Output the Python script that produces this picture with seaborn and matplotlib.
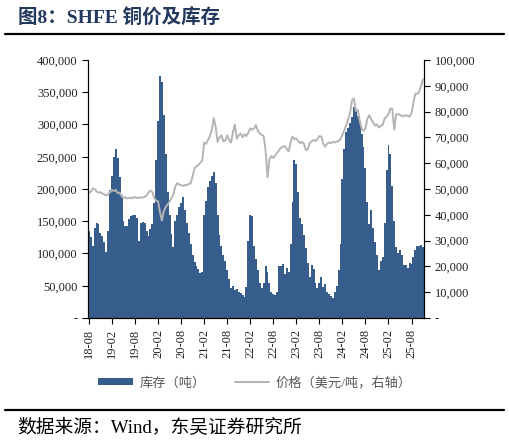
import numpy as np
import pandas as pd
import seaborn as sns
import matplotlib
matplotlib.use("Agg")
import matplotlib.pyplot as plt
from matplotlib.patches import Patch
from matplotlib.lines import Line2D
from matplotlib.ticker import FuncFormatter, MultipleLocator

# SHFE copper inventory (thousand tonnes), semi-monthly from 2018-08
inventory_k = [
    135, 125, 112, 140, 147, 145, 132, 127, 118, 102,
    135, 198, 220, 250, 262, 248, 218, 190, 150, 143,
    142, 154, 158, 160, 160, 155, 120, 147, 149, 148,
    135, 127, 138, 146, 178, 245, 305, 375, 366, 315,
    255, 195, 160, 130, 110, 150, 160, 172, 178, 188,
    168, 148, 132, 115, 98, 87, 80, 76, 69, 72,
    160, 182, 203, 212, 220, 227, 210, 160, 128, 112,
    97, 88, 75, 60, 47, 49, 43, 45, 41, 38,
    36, 32, 48, 120, 160, 158, 112, 92, 75, 54,
    47, 55, 80, 72, 55, 40, 37, 36, 40, 80,
    80, 84, 68, 78, 72, 115, 180, 245, 238, 195,
    155, 145, 128, 108, 85, 64, 82, 76, 54, 47,
    55, 63, 48, 52, 40, 37, 34, 31, 40, 50,
    75, 115, 215, 262, 288, 295, 302, 312, 327, 322,
    313, 305, 285, 265, 232, 180, 145, 168, 140, 118,
    98, 74, 88, 95, 148, 230, 268, 255, 205, 150,
    110, 100, 106, 98, 82, 82, 78, 85, 83, 95,
    105, 112, 111, 113, 110,
]

# copper price (thousand, right axis)
price_k = [
    48.4, 49.0, 50.2, 50.0, 49.0, 48.6, 48.8, 48.3, 47.9, 47.5,
    47.9, 48.8, 49.6, 49.2, 49.6, 48.4, 48.6, 47.3, 46.5, 46.8,
    46.3, 46.7, 46.4, 46.6, 46.9, 46.5, 46.6, 46.8, 46.6, 47.0,
    47.4, 48.6, 49.4, 48.8, 46.5, 45.5, 45.2, 41.0, 37.8, 41.5,
    43.0, 44.0, 45.0, 46.5, 48.0, 51.0, 52.3, 51.8, 51.5, 51.2,
    51.6, 51.4, 52.0, 52.2, 55.0, 58.0, 58.8, 59.3, 60.2, 61.0,
    68.0, 67.5, 69.0, 70.5, 73.0, 77.5, 74.0, 68.3, 70.0, 70.8,
    68.5, 68.8, 70.8, 69.0, 68.0, 72.0, 75.0, 69.5, 70.8, 71.5,
    70.0, 71.2, 70.5, 71.8, 73.5, 73.0, 73.5, 74.8, 72.5, 71.5,
    71.0, 70.5, 65.0, 54.5, 61.5, 62.8, 62.0, 63.0, 64.0, 65.0,
    66.0, 66.3, 66.7, 65.5, 64.6, 68.0, 70.3, 69.3, 69.6, 68.5,
    67.8, 68.2, 67.5, 65.0, 65.5, 67.8, 68.5, 69.0, 68.6, 69.4,
    70.5, 70.3, 67.5, 66.4, 67.5, 68.0, 67.8, 68.3, 68.0, 68.4,
    68.6, 69.4, 71.0, 72.8, 74.8, 77.0, 79.5, 84.5, 85.0, 80.2,
    80.7, 76.5, 73.5, 72.5, 73.5, 77.2, 78.6, 77.0, 75.8, 74.5,
    75.0, 73.8, 74.5, 74.9, 77.4, 78.0, 79.0, 81.2, 81.0, 73.0,
    79.0, 79.0, 78.7, 78.3, 78.2, 78.6, 78.4, 78.0, 79.5, 83.5,
    87.0, 86.8, 87.8, 90.0, 92.5,
]

dates = pd.date_range("2018-08-01", periods=len(inventory_k), freq="SMS")
df = pd.DataFrame({
    "pos": np.arange(len(dates)),
    "inventory": np.array(inventory_k) * 1000,
    "price": np.array(price_k) * 1000,
})

BAR = "#375d8c"
LINE = "#b4b4b4"
CJK = ["Liberation Serif", "Noto Sans CJK SC", "DejaVu Sans"]

sns.set_theme(style="white")
plt.rcParams["font.family"] = CJK
plt.rcParams["axes.unicode_minus"] = False

fig = plt.figure(figsize=(5.1, 4.44), dpi=100)
ax = fig.add_axes([0.1725, 0.2838, 0.6589, 0.5811])

sns.barplot(data=df, x="pos", y="inventory", color=BAR, saturation=1,
            width=1.0, linewidth=0, ax=ax)
ax2 = ax.twinx()
sns.lineplot(data=df, x="pos", y="price", color=LINE, linewidth=1.4, ax=ax2)

ax.set_xlim(-0.5, len(dates) - 0.5)
ax.set_ylim(0, 400000)
ax2.set_ylim(0, 100000)
ax.yaxis.set_major_locator(MultipleLocator(50000))
ax2.yaxis.set_major_locator(MultipleLocator(10000))
fmt = FuncFormatter(lambda v, p: "-" if v == 0 else f"{v:,.0f}")
ax.yaxis.set_major_formatter(fmt)
ax2.yaxis.set_major_formatter(fmt)

tick_pos = df["pos"][::12].tolist()
ax.set_xticks(tick_pos)
ax.set_xticklabels([dates[i].strftime("%y-%m") for i in tick_pos], rotation=90)

for a in (ax, ax2):
    a.set_xlabel("")
    a.set_ylabel("")
    a.spines["top"].set_visible(False)
    for s in ("left", "right", "bottom"):
        a.spines[s].set_color("black")
        a.spines[s].set_linewidth(0.8)
    a.tick_params(axis="both", length=4, width=0.8, color="black",
                  labelsize=9, labelcolor="#222222", direction="out")
ax.tick_params(axis="y", left=True)
ax.tick_params(axis="x", bottom=True)
ax2.tick_params(axis="y", right=True)

handles = [
    Patch(facecolor=BAR, edgecolor="none"),
    Line2D([0], [0], color=LINE, linewidth=1.5),
]
fig.legend(handles, ["库存（吨）", "价格（美元/吨，右轴）"], loc="center",
           bbox_to_anchor=(0.5, 1 - 383 / 444), ncol=2, frameon=False,
           fontsize=9.5, labelcolor="#595959", handlelength=2.6,
           handleheight=0.45, handletextpad=0.5, columnspacing=2.2)

fig.text(18 / 510, 1 - 18 / 444, "图8：SHFE 铜价及库存", fontsize=14,
         fontweight="bold", color="#233a5e", va="center", ha="left")
fig.add_artist(Line2D([5 / 510, 504 / 510], [1 - 34 / 444] * 2,
                      color="black", linewidth=1.6))
fig.add_artist(Line2D([5 / 510, 504 / 510], [1 - 410 / 444] * 2,
                      color="black", linewidth=1.6))
fig.text(17 / 510, 1 - 428 / 444, "数据来源：Wind，东吴证券研究所",
         fontsize=13.5, color="black", va="center", ha="left")

fig.savefig("out.png", dpi=100)
